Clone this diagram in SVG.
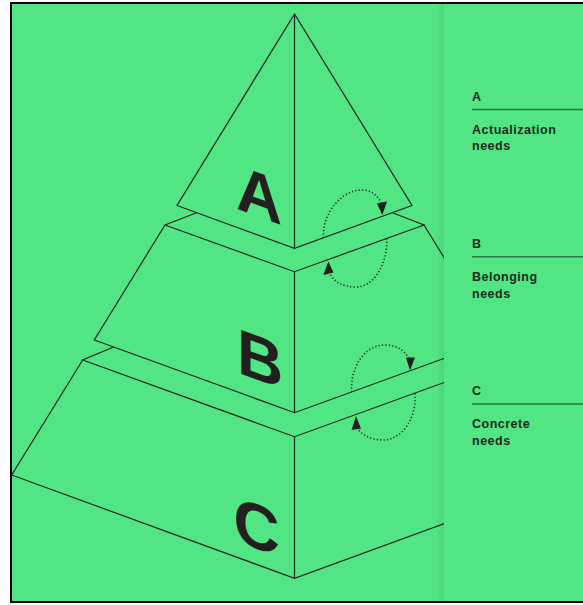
<svg xmlns="http://www.w3.org/2000/svg" width="583" height="605" viewBox="0 0 583 605">
<defs>
<style>
.edge{fill:none;stroke:#262626;stroke-width:1.2;stroke-linejoin:miter}
.dot{fill:none;stroke:#262626;stroke-width:1.6;stroke-dasharray:1.2 2.2}
.head{fill:#231f20}
.big{font-family:"Liberation Sans",Arial,sans-serif;font-weight:bold;font-size:64px;fill:#231f20}
.hdr{font-family:"Liberation Sans",Arial,sans-serif;font-weight:bold;font-size:12.5px;fill:#1c2a21}
.lbl{font-family:"Liberation Sans",Arial,sans-serif;font-weight:bold;font-size:12.5px;letter-spacing:0.5px;fill:#1c2a21}
.rule{stroke:#2a7a45;stroke-width:1.5}
</style>
<linearGradient id="shadow" x1="0" y1="0" x2="1" y2="0">
<stop offset="0" stop-color="#000" stop-opacity="0"/>
<stop offset="1" stop-color="#000" stop-opacity="0.07"/>
</linearGradient>
</defs>
<rect x="0" y="0" width="583" height="605" fill="#ffffff"/>
<rect x="11" y="3" width="600" height="599" fill="#52e583" stroke="#000" stroke-width="2"/>

<g id="layer-A">
<path class="edge" d="M294.5,14 L177,205.5 L294.5,248.3 L412,205.5 Z M294.5,14 L294.5,248.3"/>
<text class="big" transform="translate(236,208.5) skewY(20)">A</text>
</g>

<g id="layer-B">
<path class="edge" d="M196.5,212.8 L165,225 L294.5,271.7 L424,225 L392.5,212.8 M165,225 L94.3,340 L294.5,412.7 L494.7,340 L424,225 M294.5,271.7 L294.5,412.7"/>
<text class="big" transform="translate(237,372.5) skewY(20)">B</text>
</g>

<g id="layer-C">
<path class="edge" d="M113.5,347 L82.7,360 L294.5,436.7 L506.3,360 L475.5,347 M82.7,360 L11.7,475 L294.5,578.3 L577.3,475 L506.3,360 M294.5,436.7 L294.5,578.3"/>
<text class="big" transform="translate(233.5,540) skewY(20)">C</text>
</g>

<g id="connectors">
<path class="dot" d="M323.5,238 C322,215 340,190 362,190 C372,190 378,196 381,203"/>
<polygon class="head" points="377,203.5 387,201.5 382.3,215"/>
<path class="dot" d="M386.7,238.4 C388,262 375,287 356,287 C343,287 334,282 330,274"/>
<polygon class="head" points="323.3,275 333.5,272.5 328.3,261.5"/>
<path class="dot" d="M351.7,392 C350,368 364,345 385,345 C397,345 405,351 408.5,358"/>
<polygon class="head" points="406,357.5 415,357.5 410,370.5"/>
<path class="dot" d="M415,393.3 C417,418 402,440 383,440 C370,440 361,434 357,428"/>
<polygon class="head" points="351.5,430 361,428.5 356,416"/>
</g>

<rect x="436" y="4" width="8" height="597" fill="url(#shadow)"/>
<rect x="444" y="4" width="140" height="597" fill="#52e583"/>

<g id="legend-A">
<text class="hdr" x="472" y="101">A</text>
<line class="rule" x1="472" y1="109.5" x2="583" y2="109.5"/>
<text class="lbl" x="472" y="133.5">Actualization</text>
<text class="lbl" x="472" y="150.3">needs</text>
</g>
<g id="legend-B">
<text class="hdr" x="472" y="248.3">B</text>
<line class="rule" x1="472" y1="256.7" x2="583" y2="256.7"/>
<text class="lbl" x="472" y="281">Belonging</text>
<text class="lbl" x="472" y="297.5">needs</text>
</g>
<g id="legend-C">
<text class="hdr" x="472" y="395">C</text>
<line class="rule" x1="472" y1="404" x2="583" y2="404"/>
<text class="lbl" x="472" y="428">Concrete</text>
<text class="lbl" x="472" y="444.7">needs</text>
</g>
</svg>
